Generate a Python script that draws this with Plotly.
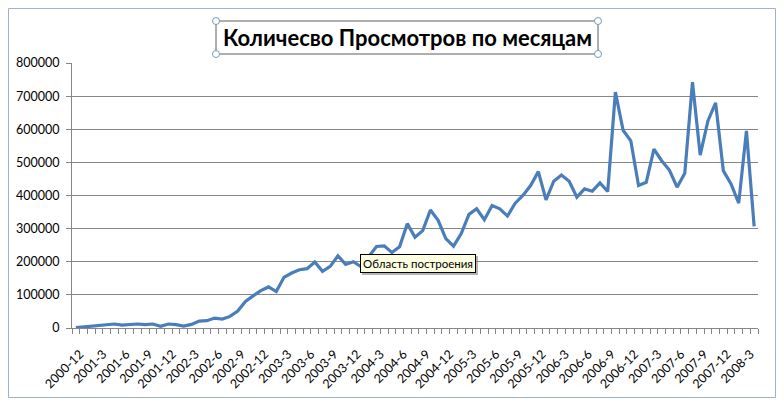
import plotly.graph_objects as go

months = [
    "2000-12",
    "2001-1", "2001-2", "2001-3", "2001-4", "2001-5", "2001-6", "2001-7", "2001-8", "2001-9", "2001-10", "2001-11", "2001-12",
    "2002-1", "2002-2", "2002-3", "2002-4", "2002-5", "2002-6", "2002-7", "2002-8", "2002-9", "2002-10", "2002-11", "2002-12",
    "2003-1", "2003-2", "2003-3", "2003-4", "2003-5", "2003-6", "2003-7", "2003-8", "2003-9", "2003-10", "2003-11", "2003-12",
    "2004-1", "2004-2", "2004-3", "2004-4", "2004-5", "2004-6", "2004-7", "2004-8", "2004-9", "2004-10", "2004-11", "2004-12",
    "2005-1", "2005-2", "2005-3", "2005-4", "2005-5", "2005-6", "2005-7", "2005-8", "2005-9", "2005-10", "2005-11", "2005-12",
    "2006-1", "2006-2", "2006-3", "2006-4", "2006-5", "2006-6", "2006-7", "2006-8", "2006-9", "2006-10", "2006-11", "2006-12",
    "2007-1", "2007-2", "2007-3", "2007-4", "2007-5", "2007-6", "2007-7", "2007-8", "2007-9", "2007-10", "2007-11", "2007-12",
    "2008-1", "2008-2", "2008-3", "2008-4",
]

views = [
    1000,
    3000, 5000, 6000, 8000, 12000, 9000, 10000, 12000, 10000, 12000, 5000, 12000,
    10000, 6000, 11000, 21000, 22000, 30000, 27000, 35000, 51000, 80000, 97000, 113000,
    124000, 110000, 153000, 166000, 176000, 179000, 199000, 171000, 186000, 218000, 192000, 200000,
    185000, 215000, 246000, 248000, 228000, 245000, 315000, 274000, 294000, 356000, 325000, 270000,
    247000, 285000, 343000, 360000, 327000, 370000, 360000, 338000, 377000, 400000, 430000, 472000,
    387000, 443000, 462000, 443000, 395000, 420000, 413000, 438000, 412000, 712000, 597000, 565000,
    430000, 440000, 540000, 505000, 477000, 425000, 467000, 742000, 522000, 625000, 680000, 475000,
    435000, 377000, 595000, 307000,
]

# every third month is labelled
tick_labels = [m if i % 3 == 0 else "" for i, m in enumerate(months)]

title_text = "Количесво Просмотров по месяцам"
tooltip_text = "Область построения"

# The page body keeps the browser's 8px margin, so the figure is laid out
# in window pixels shifted by OFF.
OFF = 8
W, H = 784 - 2 * OFF, 406 - 2 * OFF
PL, PR, PT, PB = 72, 758, 63, 328   # plot area in window pixels
L, R, T, B = PL - OFF, W - (PR - OFF), PT - OFF, H - (PB - OFF)
pw, ph = W - L - R, H - T - B


def px(xp):
    return (xp - OFF - L) / pw


def py(yp):
    return (H - B - (yp - OFF)) / ph


fig = go.Figure()
fig.add_trace(go.Scatter(
    x=months, y=views, mode="lines",
    line=dict(color="#4A7EBB", width=3.2),
    showlegend=False, hoverinfo="skip",
))

font_family = "Lato, 'Noto Sans', sans-serif"

shapes = []
# outer chart frame
shapes.append(dict(type="rect", xref="paper", yref="paper",
                   x0=px(8.5), x1=px(775.5), y0=py(397.5), y1=py(8.5),
                   line=dict(color="#9FB3C8", width=1), fillcolor="rgba(0,0,0,0)", layer="below"))
# title box
shapes.append(dict(type="rect", xref="paper", yref="paper",
                   x0=px(216), x1=px(598), y0=py(54), y1=py(21),
                   line=dict(color="#5F5F5F", width=1), fillcolor="rgba(0,0,0,0)"))
# handles at title box corners
for hx, hy in [(216, 21), (598, 21), (216, 54), (598, 54)]:
    shapes.append(dict(type="circle", xref="paper", yref="paper",
                       xsizemode="pixel", ysizemode="pixel",
                       xanchor=px(hx), yanchor=py(hy),
                       x0=-3.5, x1=3.5, y0=-3.5, y1=3.5,
                       line=dict(color="#7C98B5", width=1), fillcolor="white"))
# tooltip shadow
shapes.append(dict(type="rect", xref="paper", yref="paper",
                   x0=px(362), x1=px(478), y0=py(275), y1=py(256),
                   line=dict(width=0), fillcolor="rgba(120,120,120,0.55)"))

fig.update_layout(
    width=W, height=H,
    margin=dict(l=L, r=R, t=T, b=B, autoexpand=False),
    paper_bgcolor="white", plot_bgcolor="white",
    font=dict(family=font_family, size=12, color="#000000"),
    shapes=shapes,
    annotations=[
        dict(text="<b>" + title_text + "</b>", xref="paper", yref="paper",
             x=px(407), y=py(37), xanchor="center", yanchor="middle",
             showarrow=False, font=dict(size=22, family=font_family, color="black")),
        dict(text=tooltip_text, xref="paper", yref="paper",
             x=px(360), y=py(263), xanchor="left", yanchor="middle",
             showarrow=False, font=dict(size=11.5, family=font_family, color="black"),
             bgcolor="#FFFFE1", bordercolor="#000000", borderwidth=1, borderpad=2),
    ],
    xaxis=dict(
        type="category", tickmode="array", tickvals=months, ticktext=tick_labels,
        tickangle=-45, tickson="boundaries", ticks="outside", ticklen=5,
        tickcolor="#868686", showline=True, linecolor="#868686", linewidth=1,
        showgrid=False, tickfont=dict(size=12.5), range=[-0.5, len(months) - 0.5],
        ticklabelstandoff=13, ticklabelshift=4,
    ),
    yaxis=dict(
        range=[0, 800000], dtick=100000, tickformat="d",
        showgrid=True, gridcolor="#868686", gridwidth=1,
        showline=True, linecolor="#868686", linewidth=1,
        ticks="outside", ticklen=5, tickcolor="#868686",
        tickfont=dict(size=12.5), zeroline=False, ticklabelstandoff=4,
    ),
)

fig.write_html("out.html")
